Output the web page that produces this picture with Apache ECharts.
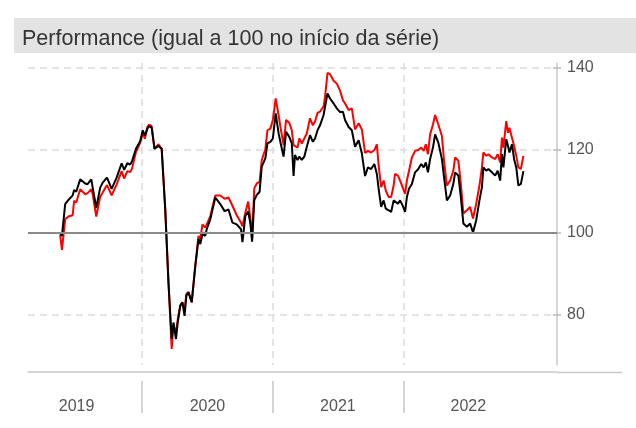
<!DOCTYPE html>
<html><head><meta charset="utf-8">
<script src="https://cdn.jsdelivr.net/npm/echarts@6/dist/echarts.min.js"></script>
<style>html,body{margin:0;padding:0;background:#fff}#c{width:636px;height:428px}</style>
</head><body><div id="c"></div>
<script>
const titleText = 'Performance (igual a 100 no início da série)';

const dates = [
'2019-05-17','2019-05-22','2019-05-31','2019-06-09','2019-06-21','2019-06-25','2019-07-01','2019-07-12','2019-07-26','2019-08-01',
'2019-08-12','2019-08-16','2019-08-26','2019-09-06','2019-09-13','2019-09-25','2019-10-08','2019-10-22','2019-11-05','2019-11-12',
'2019-11-21','2019-11-29','2019-12-04','2019-12-15','2019-12-27','2020-01-03','2020-01-09','2020-01-16','2020-01-21','2020-01-28',
'2020-02-05','2020-02-16','2020-02-25','2020-03-06','2020-03-15','2020-03-24','2020-03-29','2020-04-05','2020-04-10','2020-04-17',
'2020-04-23','2020-04-29','2020-05-04','2020-05-10','2020-05-19','2020-05-29','2020-06-07','2020-06-12','2020-06-18','2020-06-26',
'2020-06-30','2020-07-10','2020-07-24','2020-08-07','2020-08-19','2020-08-30','2020-09-10','2020-09-22','2020-10-04','2020-10-08',
'2020-10-16','2020-10-24','2020-10-30','2020-11-04','2020-11-10','2020-11-17','2020-11-25','2020-12-01','2020-12-11','2020-12-17',
'2020-12-25','2021-01-01','2021-01-09','2021-01-17','2021-01-23','2021-01-31','2021-02-07','2021-02-16','2021-02-23','2021-02-28',
'2021-03-04','2021-03-11','2021-03-16','2021-03-23','2021-03-30','2021-04-06','2021-04-15','2021-04-23','2021-04-29','2021-05-06',
'2021-05-13','2021-05-23','2021-05-27','2021-06-03','2021-06-10','2021-06-20','2021-06-29','2021-07-08','2021-07-16','2021-07-22',
'2021-08-01','2021-08-10','2021-08-19','2021-08-29','2021-09-07','2021-09-16','2021-09-24','2021-10-03','2021-10-12','2021-10-19',
'2021-10-24','2021-10-31','2021-11-07','2021-11-13','2021-11-21','2021-11-28','2021-12-05','2021-12-09','2021-12-17','2021-12-23',
'2021-12-30','2022-01-06','2022-01-11','2022-01-17','2022-01-25','2022-02-03','2022-02-12','2022-02-20','2022-02-27','2022-03-05',
'2022-03-11','2022-03-17','2022-03-25','2022-03-31','2022-04-09','2022-04-19','2022-04-25','2022-05-03','2022-05-12','2022-05-21',
'2022-05-26','2022-06-04','2022-06-11','2022-06-18','2022-06-28','2022-07-07','2022-07-15','2022-07-24','2022-08-02','2022-08-09',
'2022-08-13','2022-08-21','2022-08-27','2022-09-06','2022-09-15','2022-09-22','2022-09-29','2022-10-04','2022-10-08','2022-10-16',
'2022-10-21','2022-10-25','2022-11-01','2022-11-07','2022-11-13','2022-11-19','2022-11-26','2022-12-03'
];

const redValues = [
99.4,95.8,103.2,103.9,104.2,107.7,107.3,110.5,109.3,109.5,
110.5,109.3,103.9,108.7,109.7,111.5,109.0,111.7,114.9,113.1,
114.9,114.7,115.5,119.5,121.8,124.2,122.7,125.6,126.2,125.8,
120.3,121.4,120.3,105.6,87.9,71.8,77.4,75.8,79.0,82.3,
83.1,81.0,85.1,85.6,83.1,91.9,99.2,98.4,102.0,101.2,
102.0,104.0,109.0,109.0,108.2,108.5,106.5,104.2,102.4,101.5,
104.8,107.5,103.5,98.6,110.7,111.9,112.3,117.6,120.2,124.8,
125.2,127.3,132.5,128.5,125.2,121.2,127.3,126.6,124.8,121.2,
121.6,120.6,122.8,121.6,122.8,124.0,127.7,126.0,126.9,129.0,
129.3,130.6,132.9,138.7,138.4,136.8,136.1,134.4,132.1,131.3,
129.7,130.1,125.0,126.5,125.0,119.3,119.8,119.4,120.0,121.4,
116.2,111.0,112.6,110.2,108.6,108.6,111.4,114.2,113.8,112.6,
111.0,109.4,112.6,115.0,118.2,119.8,120.0,120.6,119.8,121.4,
119.0,123.8,126.2,128.5,126.2,123.4,117.4,111.4,112.6,115.0,
118.2,117.4,111.8,104.6,105.4,106.2,103.4,107.0,111.4,115.8,
119.4,118.6,119.0,118.2,117.8,119.0,117.0,123.0,120.6,127.0,
124.2,125.4,123.0,121.0,118.6,115.8,115.4,118.6
];

const blackValues = [
99.8,99.2,106.9,107.9,109.0,110.3,109.9,112.9,111.9,111.7,
112.9,110.9,106.0,110.9,112.1,113.3,110.6,113.3,116.8,115.2,
116.8,116.5,117.3,120.3,122.2,124.8,123.5,125.2,125.8,125.4,
120.3,121.0,120.3,105.6,87.9,74.2,78.2,74.2,78.2,82.3,
83.1,79.8,84.7,85.5,83.1,91.9,98.4,97.2,99.6,99.2,
100.8,103.2,108.5,106.9,105.2,105.6,102.4,102.0,100.8,97.7,
104.0,105.1,102.3,97.8,107.9,109.1,109.9,116.0,118.0,121.6,
122.0,122.8,128.9,124.1,121.6,118.4,124.4,123.2,121.6,113.7,
118.8,117.6,118.4,117.6,118.4,120.8,123.6,122.0,122.8,124.8,
126.0,128.5,130.5,133.7,132.5,131.3,130.1,129.2,129.3,127.3,
125.6,124.8,120.8,122.4,119.2,113.7,115.8,115.4,116.6,114.2,
110.6,106.2,107.8,105.8,105.4,105.0,107.8,108.2,107.0,107.8,
106.6,105.0,108.6,110.6,111.8,114.6,115.4,116.6,115.8,117.0,
114.6,117.8,120.6,123.8,121.8,117.8,113.4,107.8,109.0,111.8,
114.6,113.8,108.6,102.2,101.4,102.2,100.0,103.0,107.8,111.0,
115.8,115.0,115.4,114.6,113.8,115.0,112.6,119.0,115.8,122.6,
121.0,119.4,121.4,117.8,115.8,111.4,111.8,114.9
];

const yTicks = [80, 100, 120, 140];
const yearBreaks = ['2020-01-01', '2021-01-01', '2022-01-01'];
const yearLabels = ['2019', '2020', '2021', '2022'];
const xRange = ['2019-02-16', '2023-03-07'];
const yRange = [67.9, 141.1];
const baseline = 100;

function ts(s) { const p = s.split('-').map(Number); return Date.UTC(p[0], p[1] - 1, p[2]); }
const breakTs = yearBreaks.map(ts);
const labelTs = yearLabels.map(y => ts(y + '-07-02'));
const xMin = ts(xRange[0]), xMax = ts(xRange[1]);

const FONT = '"Liberation Sans", Arial, Helvetica, sans-serif';
const gridColor = '#dcdcdc';
const axisColor = '#c8c8c8';
const labelColor = '#555';

const chart = echarts.init(document.getElementById('c'), null, {renderer: 'canvas'});
chart.setOption({
  animation: false,
  backgroundColor: '#fff',
  textStyle: {fontFamily: FONT},
  title: {
    text: titleText, left: 22, top: 28, padding: 0,
    textStyle: {fontSize: 21.5, fontWeight: 'normal', color: '#333', fontFamily: FONT}
  },
  graphic: [
    {type: 'rect', shape: {x: 14, y: 18, width: 622, height: 35}, style: {fill: '#e3e3e3'}, z: -10},
    {type: 'line', shape: {x1: 557, y1: 372.5, x2: 622, y2: 372.5}, style: {stroke: axisColor, lineWidth: 1.5}, z: -10}
  ],
  grid: {left: 28, right: 79, top: 63, bottom: 63, outerBoundsMode: 'none'},
  xAxis: [
    {
      type: 'value', min: xMin, max: xMax, position: 'bottom', offset: 7,
      axisLine: {show: true, onZero: false, lineStyle: {color: axisColor, width: 1.5}},
      axisTick: {show: false, customValues: breakTs},
      axisLabel: {show: false},
      splitLine: {show: true, lineStyle: {color: gridColor, width: 1.5, type: [7, 5]}}
    },
    {
      type: 'value', min: xMin, max: xMax, position: 'bottom', offset: 16,
      axisLine: {show: false, onZero: false},
      axisTick: {show: true, customValues: breakTs, length: 32, lineStyle: {color: axisColor, width: 1.5}},
      axisLabel: {
        show: true, customValues: labelTs, color: labelColor, fontSize: 16, margin: 18, fontFamily: FONT,
        formatter: v => String(new Date(v).getUTCFullYear())
      },
      splitLine: {show: false}
    }
  ],
  yAxis: [
    {
      type: 'value', min: yRange[0], max: yRange[1], position: 'right',
      axisLine: {show: true, lineStyle: {color: axisColor, width: 1.5}},
      axisTick: {show: true, customValues: yTicks, length: 4, lineStyle: {color: '#bbb', width: 1.5}},
      axisLabel: {show: true, customValues: yTicks, color: labelColor, fontSize: 16, margin: 10, fontFamily: FONT},
      splitLine: {show: true, lineStyle: {color: gridColor, width: 1.5, type: [7, 5]}}
    },
    {
      type: 'value', min: yRange[0], max: yRange[1], position: 'right',
      axisLine: {show: false},
      axisTick: {show: true, inside: true, customValues: yTicks, length: 4, lineStyle: {color: '#bbb', width: 1.5}},
      axisLabel: {show: false},
      splitLine: {show: false}
    }
  ],
  series: [
    {
      type: 'line', name: 'red', xAxisIndex: 0, yAxisIndex: 0,
      data: dates.map((d, i) => [ts(d), redValues[i]]),
      symbol: 'none', showSymbol: false,
      lineStyle: {color: '#ff0000', width: 2}, itemStyle: {color: '#ff0000'},
      markLine: {
        silent: true, symbol: 'none', label: {show: false},
        lineStyle: {color: '#8a8a8a', width: 2, type: 'solid'},
        data: [{yAxis: baseline}]
      },
      z: 2
    },
    {
      type: 'line', name: 'black', xAxisIndex: 0, yAxisIndex: 0,
      data: dates.map((d, i) => [ts(d), blackValues[i]]),
      symbol: 'none', showSymbol: false,
      lineStyle: {color: '#000000', width: 2}, itemStyle: {color: '#000000'},
      z: 3
    }
  ]
});
</script>
</body></html>
